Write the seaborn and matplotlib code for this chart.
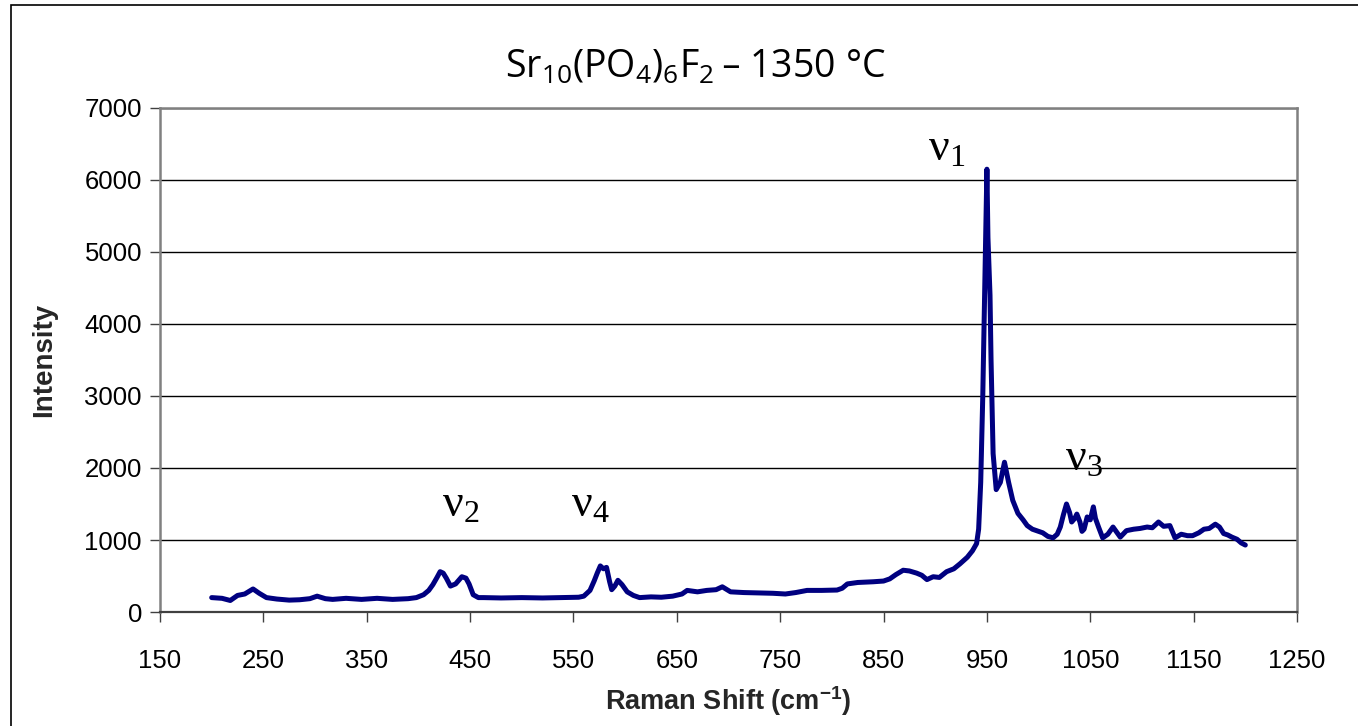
import matplotlib
matplotlib.use("Agg")
import matplotlib.pyplot as plt
from matplotlib.patches import Rectangle
import pandas as pd
import seaborn as sns

# Raman spectrum of strontium fluorapatite fired at 1350 °C
raman_shift = [
    200, 210, 218, 225, 232, 240, 246, 253, 263, 275, 285, 295, 302, 310, 317,
    330, 345, 360, 375, 390, 398, 405, 410, 414, 418, 421, 424, 427, 431, 436,
    442, 446, 449, 453, 458, 463, 480, 500, 520, 540, 555, 560, 566, 570, 573,
    576, 579, 582, 585, 587, 590, 593, 597, 602, 608, 614, 625, 635, 646, 655,
    660, 670, 679, 688, 694, 702, 715, 730, 743, 755, 765, 776, 790, 805, 810,
    815, 825, 840, 850, 856, 862, 869, 875, 882, 887, 892, 898, 904, 911, 918,
    924, 931, 936, 940, 942, 944, 946, 948, 950, 951, 953, 954, 956, 959, 963,
    967, 971, 975, 980, 985, 989, 994, 998, 1004, 1009, 1014, 1018, 1021, 1024,
    1027, 1030, 1032, 1035, 1037, 1040, 1042, 1044, 1047, 1050, 1053, 1055,
    1058, 1062, 1067, 1072, 1076, 1079, 1085, 1092, 1098, 1105, 1110, 1116,
    1121, 1127, 1130, 1132, 1138, 1144, 1149, 1155, 1160, 1165, 1171, 1175,
    1179, 1183, 1187, 1192, 1196, 1200,
]
intensity = [
    200, 190, 160, 230, 250, 320, 260, 200, 180, 165, 170, 185, 220, 185, 175,
    190, 175, 190, 175, 185, 200, 240, 300, 380, 480, 560, 540, 470, 360, 390,
    490, 470, 390, 240, 200, 200, 195, 200, 195, 200, 205, 220, 300, 430, 540,
    640, 600, 620, 420, 310, 360, 440, 380, 280, 230, 200, 210, 205, 220, 250,
    300, 280, 300, 310, 350, 280, 270, 265, 260, 250, 270, 300, 300, 305, 330,
    390, 410, 420, 430, 460, 520, 580, 570, 540, 510, 450, 490, 480, 560, 600,
    670, 760, 850, 950, 1150, 1800, 3000, 4600, 6150, 5200, 4400, 3500, 2200,
    1700, 1800, 2080, 1800, 1550, 1370, 1280, 1200, 1150, 1130, 1100, 1050,
    1030, 1080, 1180, 1350, 1500, 1380, 1250, 1300, 1360, 1250, 1120, 1150,
    1320, 1280, 1460, 1300, 1180, 1030, 1080, 1180, 1100, 1040, 1130, 1150,
    1160, 1180, 1170, 1250, 1190, 1200, 1100, 1030, 1080, 1060, 1060, 1100,
    1150, 1160, 1220, 1180, 1090, 1070, 1040, 1010, 960, 930,
]

# Vibrational mode labels: (mode number, x, baseline y) in data units
mode_labels = ["1", "2", "4", "3"]
mode_x = [893, 423, 548, 1026]
mode_y = [6270, 1320, 1320, 1960]

x_ticks = list(range(150, 1251, 100))
y_ticks = list(range(0, 7001, 1000))

sns.set_theme(style="white")
plt.rcParams["font.family"] = ["Liberation Sans", "DejaVu Sans"]

df = pd.DataFrame({"shift": raman_shift, "intensity": intensity})

fig = plt.figure(figsize=(13.58, 7.26), dpi=100)
ax = fig.add_axes([160 / 1358, 1 - 612 / 726, 1137 / 1358, 504 / 726])

sns.lineplot(data=df, x="shift", y="intensity", ax=ax, color="#000080",
             linewidth=3.6, sort=False, estimator=None)

ax.set_xlim(150, 1250)
ax.set_ylim(0, 7000)
ax.set_xticks(x_ticks)
ax.set_yticks(y_ticks)
ax.set_xticklabels([str(t) for t in x_ticks])
ax.set_yticklabels([str(t) for t in y_ticks])

# horizontal gridlines only
ax.yaxis.grid(True, color="black", linewidth=1.0)
ax.xaxis.grid(False)
ax.set_axisbelow(True)

for side in ["left", "top", "right"]:
    ax.spines[side].set_color("#808080")
    ax.spines[side].set_linewidth(1.8)
ax.spines["bottom"].set_color("#404040")
ax.spines["bottom"].set_linewidth(1.6)

ax.tick_params(axis="both", which="major", direction="out", length=7,
               width=1.0, color="#404040", labelsize=18.5, labelcolor="black",
               bottom=True, left=True)
ax.tick_params(axis="x", pad=20)
ax.tick_params(axis="y", pad=6)

ax.set_xlabel("Raman Shift (cm$^{\\mathregular{-1}}$)", fontsize=19.5,
              fontweight="bold", labelpad=8)
ax.set_ylabel("Intensity", fontsize=20, fontweight="bold", labelpad=20)

for lab, mx, my in zip(mode_labels, mode_x, mode_y):
    ax.text(mx, my, "$\\mathregular{\\nu_{" + lab + "}}$", fontsize=33,
            family=["Liberation Serif", "DejaVu Serif"], ha="left",
            va="baseline", color="black")

fig.text(695 / 1358, 1 - 68 / 726,
         "$\\mathregular{Sr_{10}(PO_4)_6F_2}$\u2009\u2013 1350 °C",
         fontsize=27, family=["Open Sans", "DejaVu Sans"], ha="center",
         va="center", color="black")

# chart frame (top and left edges)
fig.add_artist(Rectangle((11 / 1358, -0.1), 1.2, 0.1 + 1 - 5 / 726,
                         transform=fig.transFigure, fill=False,
                         edgecolor="black", linewidth=1.2))

fig.savefig("out.png", dpi=100, facecolor="white")
